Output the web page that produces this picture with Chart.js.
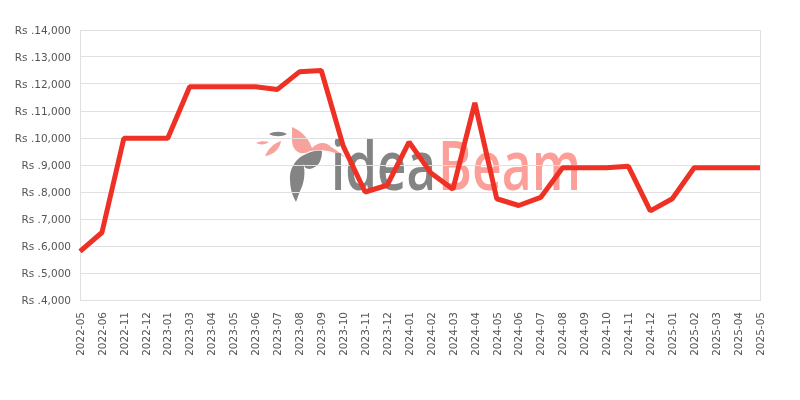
<!DOCTYPE html>
<html><head><meta charset="utf-8">
<style>
html,body{margin:0;padding:0;background:#fff;width:800px;height:400px;overflow:hidden}
#wrap{position:relative;width:800px;height:400px}
#wm{position:absolute;left:0;top:0}
canvas{position:absolute;left:0;top:0}
</style>
<script src="https://cdn.jsdelivr.net/npm/chart.js@4"></script>
</head><body>
<div id="wrap">
<svg id="wm" width="800" height="400" viewBox="0 0 800 400">
 <g fill="#f7a29c">
  <path d="M292 127C302 131 309 139 312 148C318 142 326 141 331 147C337 150 341 154 346 158C335 151 322 149 310 151C300 157 292 150 292 140Z"/>
  <path d="M256 143C260 141 265 141 269 142C265 145 260 145 256 143Z"/>
  <path d="M265 156C268 149 274 143 281 141C280 149 273 155 265 156Z"/>
 </g>
 <g fill="#848484">
  <path d="M269 134C274 131 282 131 287 134C282 137 274 137 269 134Z"/>
  <path d="M302 156C310 151 317 150 322 151C322 160 319 167 310 169C305 169 304 166 303 163C306 172 304 184 300 191L296 202C292 195 290 188 290 180C289 170 295 160 302 156Z"/>
 </g>
 <text x="331" y="190" font-family="Open Sans" font-weight="600" font-size="68" fill="#848484" textLength="105" lengthAdjust="spacingAndGlyphs">idea</text>
 <text x="438" y="190" font-family="Open Sans" font-weight="600" font-size="68" fill="#fb9f98" textLength="143" lengthAdjust="spacingAndGlyphs">Beam</text>
</svg>
<canvas id="c" width="800" height="400"></canvas>
</div>
<script>
const categories = ["2022-05","2022-06","2022-11","2022-12","2023-01","2023-03","2023-04","2023-05","2023-06","2023-07","2023-08","2023-09","2023-10","2023-11","2023-12","2024-01","2024-02","2024-03","2024-04","2024-05","2024-06","2024-07","2024-08","2024-09","2024-10","2024-11","2024-12","2025-01","2025-02","2025-03","2025-04","2025-05"];
const prices = [5800,6500,9990,9990,9990,11900,11900,11900,11900,11800,12450,12500,9700,8000,8250,9850,8700,8100,11300,7750,7500,7800,8900,8900,8900,8950,7300,7750,8900,8900,8900,8900];
const yMin = 4000, yMax = 14000, yStep = 1000;
const font = {family:"'DejaVu Sans'", size:10.5};
const gridColor = "#e0e0e0", textColor = "#555555", lineColor = "#ee3124";

new Chart(document.getElementById('c'), {
  type:'line',
  data:{labels:categories,datasets:[{data:prices,borderColor:lineColor,borderWidth:5,pointRadius:0,tension:0,fill:false,borderJoinStyle:'bevel'}]},
  options:{
    responsive:false,animation:false,devicePixelRatio:1,
    layout:{padding:{left:0,top:30,right:40,bottom:0}},
    plugins:{legend:{display:false},tooltip:{enabled:false},title:{display:false}},
    scales:{
      x:{
        offset:false,
        grid:{color:gridColor,lineWidth:1,drawOnChartArea:false,drawTicks:false},
        border:{color:gridColor},
        afterFit(s){s.height=100},
        ticks:{autoSkip:false,maxRotation:90,minRotation:90,color:textColor,font,padding:12,labelOffset:1}
      },
      y:{
        min:yMin,max:yMax,
        grid:{color:gridColor,lineWidth:1,drawTicks:false},
        border:{color:gridColor},
        afterFit(s){s.width=80},
        ticks:{stepSize:yStep,color:textColor,font,padding:9,labelOffset:1,callback:v=>'Rs .'+v.toLocaleString('en-US')}
      }
    }
  },
  plugins:[{id:'rightEdge',afterDraw(chart){const {ctx,chartArea:a}=chart;ctx.save();ctx.strokeStyle=gridColor;ctx.lineWidth=1;ctx.beginPath();ctx.moveTo(Math.round(a.right)+.5,a.top);ctx.lineTo(Math.round(a.right)+.5,a.bottom);ctx.stroke();ctx.restore();}}]
});
</script>
</body></html>
